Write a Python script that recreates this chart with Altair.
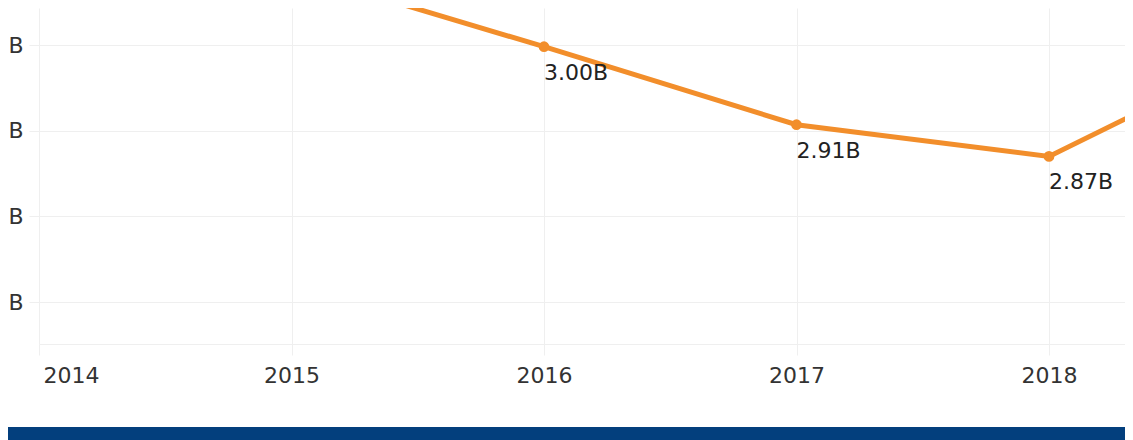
import altair as alt
import pandas as pd

# Data (values in billions)
years = [2015, 2016, 2017, 2018, 2019]
values_b = [3.086, 2.998, 2.907, 2.870, 3.015]
x_ticks = [2014, 2015, 2016, 2017, 2018]
y_ticks = [2.7, 2.8, 2.9, 3.0]

df = pd.DataFrame({"year": years, "value": values_b})
df["label"] = [f"{v:.2f}B" for v in values_b]

PAD_LEFT = 31
W = 1117 - PAD_LEFT
H = 336
PX_PER_YEAR = 252.5
FONT = "DejaVu Sans"
GRID = "#EFEFEF"
ORANGE = "#F28E2B"
FS = 22

x_enc = alt.X(
    "year:Q",
    scale=alt.Scale(domain=[2014, 2014 + W / PX_PER_YEAR], nice=False, zero=False),
    axis=alt.Axis(
        values=x_ticks, format="d", title=None, grid=True, gridColor=GRID,
        tickColor=GRID, tickSize=11, domainColor=GRID, labelFlush=True,
        labelFlushOffset=-4, labelFont=FONT, labelFontSize=FS, labelColor="#333333",
        labelPadding=10,
    ),
)
y_enc = alt.Y(
    "value:Q",
    scale=alt.Scale(domain=[2.651, 3.0432], nice=False, zero=False),
    axis=alt.Axis(
        values=y_ticks, labelExpr="format(datum.value, '.1f') + 'B'", title=None,
        grid=True, gridColor=GRID, tickColor=GRID, tickSize=10, domain=False,
        labelFont=FONT, labelFontSize=FS, labelColor="#333333", labelPadding=6,
    ),
)

base = alt.Chart(df)

line = base.mark_line(color=ORANGE, strokeWidth=5, clip=True).encode(x=x_enc, y=y_enc)
points = base.mark_circle(color=ORANGE, size=115, opacity=1, clip=True).encode(x="year:Q", y="value:Q")
labels = base.mark_text(
    align="left", baseline="alphabetic", dx=0, dy=33, font=FONT, fontSize=FS,
    color="#222222", clip=True,
).encode(x="year:Q", y="value:Q", text="label:N")

bar = alt.Chart(pd.DataFrame({"k": [0]})).mark_rect(color="#033F7D").encode(
    x=alt.value(-PAD_LEFT), x2=alt.value(W), y=alt.value(419), y2=alt.value(432)
)

chart = (
    alt.layer(line, points, labels, bar)
    .properties(
        width=W, height=H,
        autosize=alt.AutoSizeParams(type="none"),
        padding={"left": PAD_LEFT, "top": 0, "right": 0, "bottom": 96},
    )
    .configure_view(stroke=None)
)

chart.save("out.html", embed_options={"renderer": "svg", "actions": False})
